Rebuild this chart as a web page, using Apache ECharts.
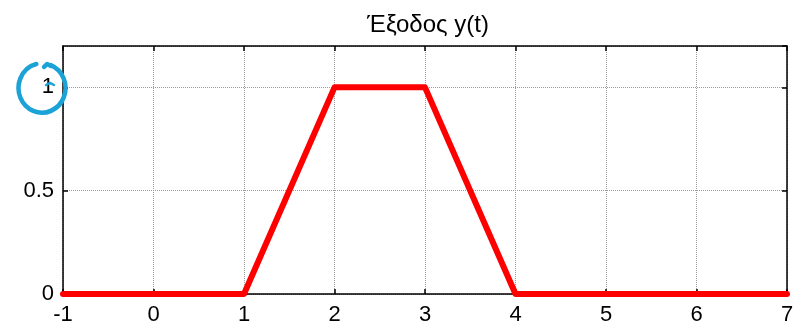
<!DOCTYPE html>
<html>
<head>
<meta charset="utf-8">
<script src="https://cdn.jsdelivr.net/npm/echarts@6/dist/echarts.min.js"></script>
<style>
  html, body { margin: 0; padding: 0; background: #fff; }
  #chart { width: 804px; height: 326px; }
</style>
</head>
<body>
<div id="chart"></div>
<script>
// Output signal y(t): trapezoid rising on [1,2], flat on [2,3], falling on [3,4]
var tValues = [-1, 1, 2, 3, 4, 7];
var yValues = [0, 0, 1, 1, 0, 0];
var xTicks = [-1, 0, 1, 2, 3, 4, 5, 6, 7];
var yTicks = [0, 0.5, 1];
var titleText = 'Έξοδος y(t)';

var chart = echarts.init(document.getElementById('chart'), null, { renderer: 'canvas' });

var points = tValues.map(function (t, i) { return [t, yValues[i]]; });
var font = 'Liberation Sans, Arial, sans-serif';

function fmtX(v) { return xTicks.indexOf(v) >= 0 ? String(v) : ''; }
function fmtY(v) { return yTicks.indexOf(v) >= 0 ? String(v) : ''; }

var splitStyle = { show: true, lineStyle: { color: '#9a9a9a', type: [1, 1], width: 1 } };
var tickStyle = { show: true, inside: true, length: 5, lineStyle: { color: '#000', width: 1.5 } };
var frameLine = { show: true, onZero: false, lineStyle: { color: '#000', width: 1.5 } };

chart.setOption({
  animation: false,
  backgroundColor: '#fff',
  title: {
    text: titleText,
    left: 423, top: 8, textAlign: 'center',
    textStyle: { fontFamily: font, fontSize: 24, fontWeight: 'normal', color: '#000' }
  },
  grid: {
    left: 63, right: 17, top: 46, bottom: 31,
    show: false
  },
  xAxis: [{
    type: 'value', min: -1, max: 7, interval: 1,
    axisLine: frameLine,
    axisTick: tickStyle,
    splitLine: splitStyle,
    axisLabel: { color: '#000', fontFamily: font, fontSize: 22, margin: 10, formatter: fmtX }
  }, {
    type: 'value', min: -1, max: 7, interval: 1, position: 'top',
    axisLine: frameLine,
    axisTick: tickStyle, splitLine: { show: false }, axisLabel: { show: false }
  }],
  yAxis: [{
    type: 'value', min: 0, max: 1.2, interval: 0.5,
    axisLine: frameLine,
    axisTick: tickStyle,
    splitLine: splitStyle,
    axisLabel: { color: '#000', fontFamily: font, fontSize: 22, margin: 9, showMaxLabel: false, formatter: fmtY }
  }, {
    type: 'value', min: 0, max: 1.2, interval: 0.5, position: 'right',
    axisLine: frameLine,
    axisTick: tickStyle, splitLine: { show: false }, axisLabel: { show: false }
  }],
  series: [{
    type: 'line',
    data: points,
    showSymbol: false,
    lineStyle: { color: '#ff0000', width: 6, join: 'round', cap: 'round' },
    clip: false,
    z: 5
  }],
  graphic: [{
    // hand-drawn blue loop around the "1" tick label
    type: 'arc',
    x: 42, y: 88,
    scaleY: 1.05,
    shape: { cx: 0, cy: 0, r: 23.5, startAngle: -68 * Math.PI / 180, endAngle: 256 * Math.PI / 180, clockwise: true },
    style: { stroke: '#1ba3d8', lineWidth: 4.5, fill: null, lineCap: 'round' },
    z: 100
  }, {
    type: 'polyline',
    shape: { points: [[51, 66], [47, 64], [44, 67]] },
    style: { stroke: '#1ba3d8', lineWidth: 4.5, fill: null, lineCap: 'round', lineJoin: 'round' },
    z: 100
  }, {
    type: 'polyline',
    shape: { points: [[46, 85], [50, 83], [54, 85]] },
    style: { stroke: '#1ba3d8', lineWidth: 2.5, fill: null, lineCap: 'round' },
    z: 100
  }]
});
</script>
</body>
</html>
